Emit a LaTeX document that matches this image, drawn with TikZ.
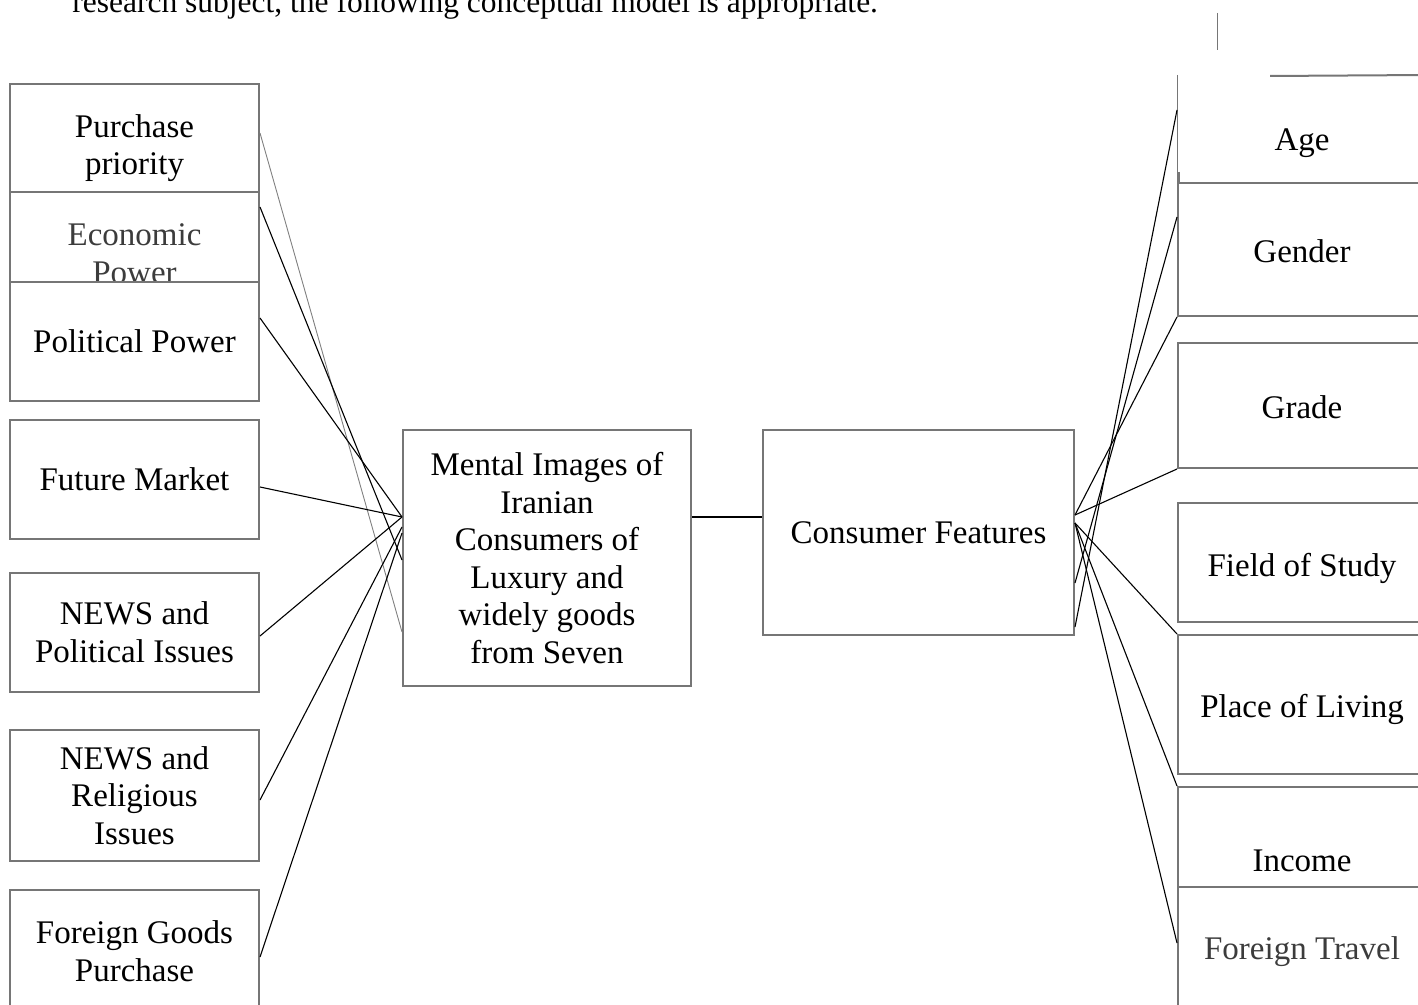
\documentclass[tikz,border=0pt]{standalone}
\usepackage{fontspec}
\setmainfont{Liberation Serif}

\definecolor{boxgray}{RGB}{118,118,118}
\definecolor{textgray}{RGB}{60,60,60}
\tikzset{
  box/.style={draw=boxgray, line width=1pt, fill=white, align=center, inner sep=0pt,
    minimum width=124.5pt, font=\fontsize{16.5}{18.8}\selectfont},
  rbox/.style={box, minimum width=124pt},
  link/.style={line width=0.55pt, black},
}

\begin{document}
\begin{tikzpicture}[x=0.5pt,y=-0.5pt]
\clip (0,0) rectangle (1418,1005);
\node[anchor=base west, inner sep=0pt, font=\fontsize{15.75}{18.8}\selectfont] (intro) at (72,13) {research subject, the following conceptual model is appropriate.};

% left column
\node[box, minimum height=54pt, text height=40.3pt] (pp) at (134.5,138) {Purchase\\priority};
\node[box, minimum height=61.5pt, text=textgray] (eco) at (134.5,253.5) {Economic\\Power};
\node[box, minimum height=59.5pt] (pol) at (134.5,341.5) {Political Power};
\node[box, minimum height=59.5pt] (fm) at (134.5,479.5) {Future Market};
\node[box, minimum height=59.5pt] (np) at (134.5,632.5) {NEWS and\\Political Issues};
\node[box, minimum height=65.5pt] (nr) at (134.5,795.5) {NEWS and\\Religious\\Issues};
\node[box, minimum height=61pt] (fg) at (134.5,951) {Foreign Goods\\Purchase};

% middle
\node[box, minimum width=144pt, minimum height=128pt] (mi) at (547,558)
  {Mental Images of\\Iranian\\Consumers of\\Luxury and\\widely goods\\from Seven};
\node[box, minimum width=155.5pt, minimum height=102.5pt] (cf) at (918.5,532.5) {Consumer Features};

% right column
\node[rbox, draw=none, fill=none, minimum height=53.5pt, text height=24.5pt] (age) at (1302,129.5) {Age};
\draw[boxgray, line width=0.5pt] (age.north west) -- (age.south west);
\draw[boxgray, line width=1pt] (1270,76) -- (age.north east);
\draw[boxgray, line width=0.5pt] (1217,13) -- (1217,50);
\draw[boxgray, line width=1pt] (1179,172) -- (1179,183);
\node[rbox, minimum height=66.5pt, text height=13.5pt] (ge) at (1302,249.5) {Gender};
\node[rbox, minimum height=62.5pt, text height=13.5pt] (gr) at (1302,405.5) {Grade};
\node[rbox, minimum height=59.5pt, text height=17.5pt] (fs) at (1302,562.5) {Field of Study};
\node[rbox, minimum height=69.5pt, text height=16.5pt] (pl) at (1302,704.5) {Place of Living};
\node[rbox, minimum height=74pt] (inc) at (1302,861) {Income};
\node[rbox, minimum height=61pt, text height=15.5pt, text=textgray] (ft) at (1302,948) {Foreign Travel};

% links
\coordinate (hubL) at ([yshift=20.5pt]mi.west);
\draw[link, draw=gray, line width=0.45pt] ([yshift=2.5pt]pp.east) -- ([yshift=-37pt]mi.west);
\draw[link] ([yshift=-8pt]eco.north east) -- ([yshift=-1pt]mi.west);
\foreach \n/\s in {pol/11.75, fm/-3.75, np/-1.75}
  \draw[link] ([yshift=\s pt]\n.east) -- (hubL);
\draw[link] ([yshift=-2.25pt]nr.east) -- ([yshift=15.5pt]mi.west);
\draw[link] ([yshift=-3pt]fg.east) -- ([yshift=12.5pt]mi.west);
\draw[link] (hubL -| mi.east) -- (hubL -| cf.west);

\coordinate (hubA) at ([yshift=8.75pt]cf.east);
\coordinate (hubB) at ([yshift=4.75pt]cf.east);
\draw[link] ([yshift=-47.25pt]cf.east) -- ([yshift=9.75pt]age.west);
\draw[link] ([yshift=-25.25pt]cf.east) -- ([yshift=16.25pt]ge.west);
\foreach \t in {ge.south west, gr.south west}
  \draw[link] (hubA) -- (\t);
\foreach \t in {pl.north west, inc.north west}
  \draw[link] (hubB) -- (\t);
\draw[link] (hubB) -- ([yshift=2.5pt]ft.west);
\end{tikzpicture}
\end{document}
